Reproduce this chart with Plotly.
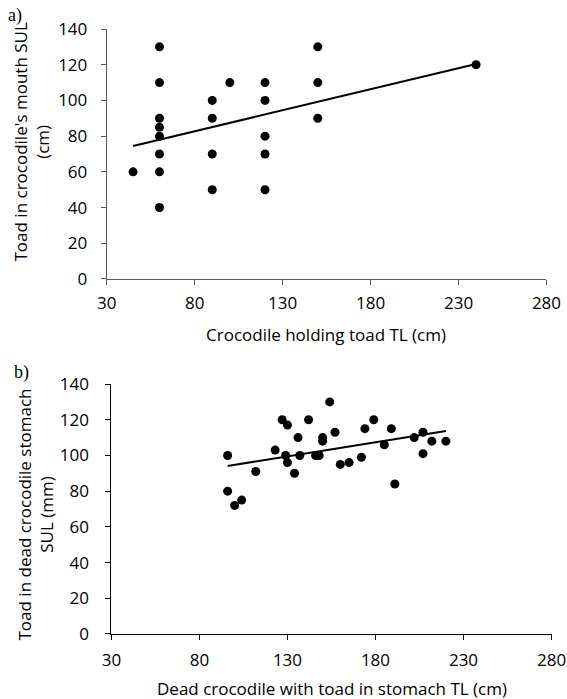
import numpy as np
import plotly.graph_objects as go

# Panel a: crocodile holding toad
a_croc_tl = [45, 60, 60, 60, 60, 60, 60, 60, 60, 90, 90, 90, 90, 100, 120, 120, 120, 120, 120, 150, 150, 150, 240]
a_toad_sul = [60, 130, 110, 90, 85, 80, 70, 60, 40, 100, 90, 70, 50, 110, 110, 100, 80, 70, 50, 130, 110, 90, 120]

# Panel b: dead crocodile with toad in stomach
b_croc_tl = [96, 96, 100, 104, 112, 123, 127, 130, 129, 130, 134, 136, 137, 142, 146, 148, 150, 150,
             154, 157, 160, 165, 172, 174, 179, 185, 189, 191, 202, 207, 207, 212, 220]
b_toad_sul = [100, 80, 72, 75, 91, 103, 120, 117, 100, 96, 90, 110, 100, 120, 100, 100, 110, 108,
              130, 113, 95, 96, 99, 115, 120, 106, 115, 84, 110, 113, 101, 108, 108]

x_ticks = [30, 80, 130, 180, 230, 280]
y_ticks = [0, 20, 40, 60, 80, 100, 120, 140]

FONT = "Open Sans"
TFS = 17


def trend(xs, ys):
    m, c = np.polyfit(xs, ys, 1)
    xx = np.array([min(xs), max(xs)])
    return xx, m * xx + c


fig = go.Figure()

for xs, ys, xa, ya in [(a_croc_tl, a_toad_sul, "x", "y"), (b_croc_tl, b_toad_sul, "x2", "y2")]:
    fig.add_trace(go.Scatter(x=xs, y=ys, mode="markers", xaxis=xa, yaxis=ya,
                             marker=dict(color="black", size=9), showlegend=False))
    tx, ty = trend(xs, ys)
    fig.add_trace(go.Scatter(x=tx, y=ty, mode="lines", xaxis=xa, yaxis=ya,
                             line=dict(color="black", width=2), showlegend=False))

ax_common = dict(tickmode="array", showgrid=False, zeroline=False, showline=True,
                 ticks="outside", ticklen=5, tickwidth=1, automargin=False,
                 tickfont=dict(family=FONT, size=TFS, color="black"))

fig.update_layout(
    width=567, height=699,
    margin=dict(l=0, r=0, t=0, b=0),
    paper_bgcolor="white", plot_bgcolor="white",
    xaxis=dict(domain=[0.1882, 0.9638], range=[30, 280], tickvals=x_ticks, anchor="y",
               linecolor="#595959", tickcolor="#595959", ticklabelstandoff=4, **ax_common),
    yaxis=dict(domain=[0.6009, 0.9585], range=[0, 140], tickvals=y_ticks, anchor="x",
               linecolor="#595959", tickcolor="#595959", ticklabelstandoff=10, **ax_common),
    xaxis2=dict(domain=[0.1965, 0.9727], range=[30, 280], tickvals=x_ticks, anchor="y2",
                linecolor="black", tickcolor="black", ticklabelstandoff=6, **ax_common),
    yaxis2=dict(domain=[0.0930, 0.4506], range=[0, 140], tickvals=y_ticks, anchor="x2",
                linecolor="black", tickcolor="black", ticklabelstandoff=13, **ax_common),
)

ann = [
    dict(text="a)", x=15, y=16, font=dict(family="Liberation Serif", size=18)),
    dict(text="b)", x=21, y=372, font=dict(family="Liberation Serif", size=18)),
    dict(text="Crocodile holding toad TL (cm)", x=326, y=334, font=dict(family=FONT, size=TFS)),
    dict(text="Dead crocodile with toad in stomach TL (cm)", x=332, y=688, font=dict(family=FONT, size=TFS)),
    dict(text="Toad in crocodile's mouth SUL<br>(cm)", x=30.5, y=142, textangle=-90,
         font=dict(family=FONT, size=TFS)),
    dict(text="Toad in dead crocodile stomach<br>SUL (mm)", x=34.5, y=515, textangle=-90,
         font=dict(family=FONT, size=TFS)),
]
for a in ann:
    font = a.pop("font")
    font["color"] = "black"
    fig.add_annotation(xref="paper", yref="paper", x=a.pop("x") / 567, y=1 - a.pop("y") / 699,
                       xanchor="center", yanchor="middle", showarrow=False, font=font, **a)

fig.write_html("out.html", config={"displayModeBar": False},
               post_script="document.body.style.margin='0';document.body.style.overflow='hidden';")
